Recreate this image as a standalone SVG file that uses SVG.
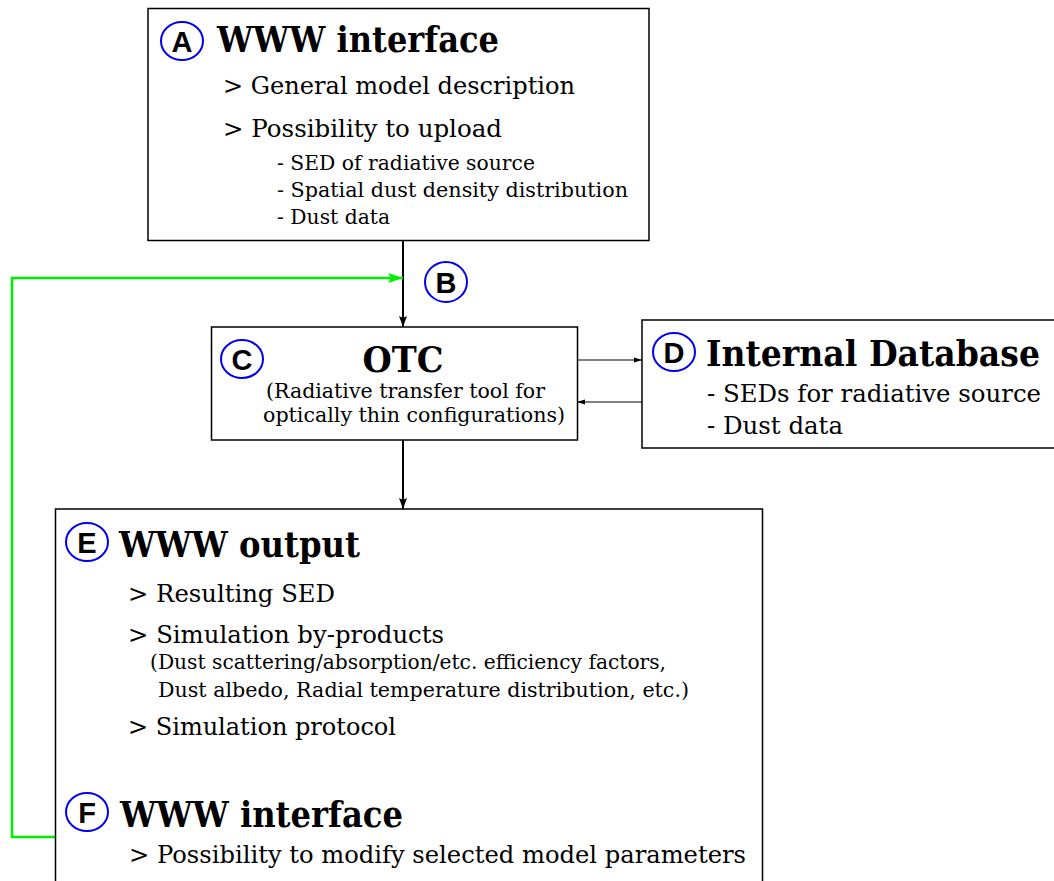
<svg xmlns="http://www.w3.org/2000/svg" width="1054" height="881" viewBox="0 0 1054 881">
<style>
.box{fill:#fff;stroke:#000;stroke-width:1.5}
.badge{fill:#fff;stroke:#0000ee;stroke-width:2}
.bl{font-family:"Liberation Sans","DejaVu Sans",sans-serif;font-weight:bold;font-size:29px;fill:#000;text-anchor:middle}
.t{font-family:"DejaVu Serif","Liberation Serif",serif;fill:#000}
.h{font-size:35px;font-weight:bold}
.i{font-size:24px}
.s{font-size:20px}
.c{text-anchor:middle}
.ln{stroke:#000;stroke-width:2;fill:none}
.thin{stroke:#000;stroke-width:1.2;fill:none}
.gr{stroke:#00ee00;stroke-width:2.5;fill:none}
</style>
<defs>
<marker id="ah" markerUnits="userSpaceOnUse" markerWidth="12" markerHeight="8" refX="11" refY="4" orient="auto"><path d="M0,0 L11,4 L0,8 L2,4 z" fill="#000"/></marker>
<marker id="ahs" markerUnits="userSpaceOnUse" markerWidth="9" markerHeight="6" refX="8" refY="3" orient="auto"><path d="M0,0.5 L8,3 L0,5.5 z" fill="#000"/></marker>
<marker id="ahg" markerUnits="userSpaceOnUse" markerWidth="16" markerHeight="10" refX="15" refY="5" orient="auto"><path d="M0,0 L15,5 L0,10 L3,5 z" fill="#00ee00"/></marker>
</defs>
<g id="connectors">
<line class="ln" x1="403" y1="241" x2="403" y2="327" marker-end="url(#ah)"/>
<line class="ln" x1="403" y1="440" x2="403" y2="509" marker-end="url(#ah)"/>
<line class="thin" x1="577" y1="360" x2="642" y2="360" marker-end="url(#ahs)"/>
<line class="thin" x1="642" y1="402" x2="577" y2="402" marker-end="url(#ahs)"/>
<polyline class="gr" points="55,837 12,837 12,278 403,278" marker-end="url(#ahg)"/>
</g>
<g id="nodeA">
<rect class="box" x="148" y="8.5" width="501" height="232"/>
<ellipse class="badge" cx="182" cy="41" rx="21" ry="19"/>
<text class="bl" x="182" y="51.5">A</text>
<text class="t h" x="217" y="52" textLength="282" lengthAdjust="spacingAndGlyphs">WWW interface</text>
<text class="t i" x="223" y="94" textLength="352" lengthAdjust="spacingAndGlyphs">&gt; General model description</text>
<text class="t i" x="223" y="137" textLength="279" lengthAdjust="spacingAndGlyphs">&gt; Possibility to upload</text>
<text class="t s" x="277" y="170" textLength="258" lengthAdjust="spacingAndGlyphs">- SED of radiative source</text>
<text class="t s" x="277" y="197" textLength="351" lengthAdjust="spacingAndGlyphs">- Spatial dust density distribution</text>
<text class="t s" x="277" y="224" textLength="113" lengthAdjust="spacingAndGlyphs">- Dust data</text>
</g>
<g id="nodeB">
<ellipse class="badge" cx="446" cy="282" rx="21" ry="20"/>
<text class="bl" x="446" y="292.5">B</text>
</g>
<g id="nodeC">
<rect class="box" x="211.5" y="327" width="366" height="113"/>
<ellipse class="badge" cx="242" cy="359" rx="21" ry="19"/>
<text class="bl" x="242" y="369.5">C</text>
<text class="t h c" x="403" y="372" textLength="81" lengthAdjust="spacingAndGlyphs">OTC</text>
<text class="t s" x="266" y="398" textLength="279" lengthAdjust="spacingAndGlyphs">(Radiative transfer tool for</text>
<text class="t s" x="263" y="422" textLength="302" lengthAdjust="spacingAndGlyphs">optically thin configurations)</text>
</g>
<g id="nodeD">
<rect class="box" x="642" y="320" width="420" height="128"/>
<ellipse class="badge" cx="674" cy="352" rx="21" ry="19"/>
<text class="bl" x="674" y="362.5">D</text>
<text class="t h" x="706" y="366" textLength="334" lengthAdjust="spacingAndGlyphs">Internal Database</text>
<text class="t i" x="707" y="402" textLength="334" lengthAdjust="spacingAndGlyphs">- SEDs for radiative source</text>
<text class="t i" x="707" y="434" textLength="136" lengthAdjust="spacingAndGlyphs">- Dust data</text>
</g>
<g id="nodeE">
<rect class="box" x="55.5" y="509" width="707" height="400"/>
<ellipse class="badge" cx="87" cy="542" rx="21" ry="19"/>
<text class="bl" x="87" y="552.5">E</text>
<text class="t h" x="119" y="557" textLength="241" lengthAdjust="spacingAndGlyphs">WWW output</text>
<text class="t i" x="128" y="602" textLength="207" lengthAdjust="spacingAndGlyphs">&gt; Resulting SED</text>
<text class="t i" x="128" y="643" textLength="316" lengthAdjust="spacingAndGlyphs">&gt; Simulation by-products</text>
<text class="t s" x="150" y="669" textLength="516" lengthAdjust="spacingAndGlyphs">(Dust scattering/absorption/etc. efficiency factors,</text>
<text class="t s" x="158" y="697" textLength="531" lengthAdjust="spacingAndGlyphs">Dust albedo, Radial temperature distribution, etc.)</text>
<text class="t i" x="128" y="735" textLength="268" lengthAdjust="spacingAndGlyphs">&gt; Simulation protocol</text>
</g>
<g id="nodeF">
<ellipse class="badge" cx="87" cy="812" rx="21" ry="19"/>
<text class="bl" x="87" y="822.5">F</text>
<text class="t h" x="120" y="827" textLength="283" lengthAdjust="spacingAndGlyphs">WWW interface</text>
<text class="t i" x="129" y="863" textLength="617" lengthAdjust="spacingAndGlyphs">&gt; Possibility to modify selected model parameters</text>
</g>
</svg>
